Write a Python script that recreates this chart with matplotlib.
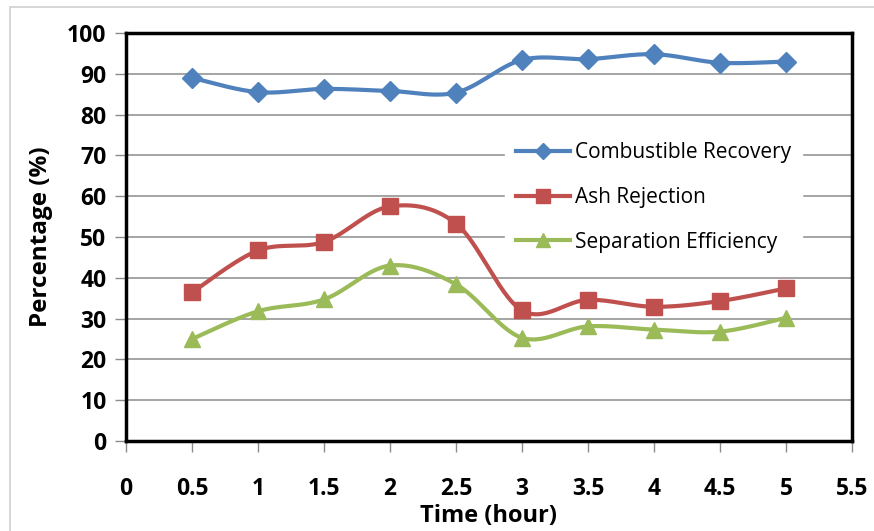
import numpy as np
import matplotlib
matplotlib.use("Agg")
import matplotlib.pyplot as plt
from matplotlib.patches import Rectangle

time_h = [0.5, 1, 1.5, 2, 2.5, 3, 3.5, 4, 4.5, 5]
combustible_recovery = [89.0, 85.5, 86.3, 85.8, 85.4, 93.4, 93.6, 94.8, 92.7, 93.0]
ash_rejection = [36.4, 46.7, 48.8, 57.5, 53.3, 32.0, 34.6, 32.9, 34.3, 37.4]
separation_efficiency = [25.0, 31.8, 34.7, 43.0, 38.4, 25.3, 28.1, 27.3, 26.8, 30.2]
series_names = ["Combustible Recovery", "Ash Rejection", "Separation Efficiency"]
x_ticks = [0, 0.5, 1, 1.5, 2, 2.5, 3, 3.5, 4, 4.5, 5, 5.5]
x_tick_labels = ["0", "0.5", "1", "1.5", "2", "2.5", "3", "3.5", "4", "4.5", "5", "5.5"]
y_ticks = [0, 10, 20, 30, 40, 50, 60, 70, 80, 90, 100]

FONT = ["Open Sans", "DejaVu Sans"]
plt.rcParams['font.family'] = FONT


def smooth(xs, ys, n=30):
    """Excel-like smoothed line: cubic Bezier with Catmull-Rom control points."""
    xs = np.asarray(xs, float)
    ys = np.asarray(ys, float)
    px, py = [], []
    m = len(xs)
    for i in range(m - 1):
        x0, y0 = (xs[i - 1], ys[i - 1]) if i > 0 else (xs[i], ys[i])
        x1, y1 = xs[i], ys[i]
        x2, y2 = xs[i + 1], ys[i + 1]
        x3, y3 = (xs[i + 2], ys[i + 2]) if i + 2 < m else (xs[i + 1], ys[i + 1])
        c1x, c1y = x1 + (x2 - x0) / 6, y1 + (y2 - y0) / 6
        c2x, c2y = x2 - (x3 - x1) / 6, y2 - (y3 - y1) / 6
        t = np.linspace(0, 1, n)
        bx = (1 - t) ** 3 * x1 + 3 * (1 - t) ** 2 * t * c1x + 3 * (1 - t) * t ** 2 * c2x + t ** 3 * x2
        by = (1 - t) ** 3 * y1 + 3 * (1 - t) ** 2 * t * c1y + 3 * (1 - t) * t ** 2 * c2y + t ** 3 * y2
        px.extend(bx)
        py.extend(by)
    return np.array(px), np.array(py)


W, H = 874, 531
fig = plt.figure(figsize=(W / 100, H / 100), dpi=100)
left, right, top, bottom = 126, 852, 33, 441
ax = fig.add_axes([left / W, 1 - bottom / H, (right - left) / W, (bottom - top) / H])

# chart area border
fig.patches.append(Rectangle((10 / W, -0.1), 1.2, (H - 7) / H + 0.1, transform=fig.transFigure,
                             fill=False, edgecolor="#d0d0d0", linewidth=1.2, zorder=0))

colors = ["#4F81BD", "#C0504D", "#9BBB59"]
markers = ["D", "s", "^"]
msizes = [10, 12, 12]
data = [combustible_recovery, ash_rejection, separation_efficiency]
handles = []
for name, ys, c, mk, ms in zip(series_names, data, colors, markers, msizes):
    sx, sy = smooth(time_h, ys)
    ax.plot(sx, sy, color=c, lw=3, solid_capstyle="round", zorder=3)
    ax.plot(time_h, ys, linestyle="none", marker=mk, color=c, markersize=ms, zorder=4)
    h, = ax.plot([], [], color=c, lw=3, marker=mk, markersize=ms * 0.85, label=name)
    handles.append(h)

ax.set_xlim(0, 5.5)
ax.set_ylim(0, 100)
ax.set_xticks(x_ticks)
ax.set_xticklabels(x_tick_labels)
ax.set_yticks(y_ticks)
ax.yaxis.grid(True, color="#8c8c8c", linewidth=1.1)
ax.set_axisbelow(True)
for s in ax.spines.values():
    s.set_linewidth(2.5)
    s.set_color("black")
ax.tick_params(axis="both", direction="out", length=8, width=1, color="#8c8c8c",
               labelsize=16.5)
ax.tick_params(axis="x", pad=18)
ax.tick_params(axis="y", pad=6)
for lab in ax.get_xticklabels() + ax.get_yticklabels():
    lab.set_fontweight("bold")

ax.set_xlabel("Time (hour)", fontsize=17, fontweight="bold")
ax.xaxis.label.set_va("center")
ax.xaxis.set_label_coords(0.5, -(516 - bottom) / (bottom - top))
ax.set_ylabel("Percentage (%)", fontsize=17.5, fontweight="bold", labelpad=10)

leg = ax.legend(handles=handles, loc="upper left",
                bbox_to_anchor=((495 - left) / (right - left), 1 - (121 - top) / (bottom - top)),
                frameon=True, fancybox=False, framealpha=1, edgecolor="white",
                fontsize=15, handlelength=2.6, handletextpad=0.25, labelspacing=1.15,
                borderpad=0.5)
leg.set_zorder(5)

fig.savefig("out.png", dpi=100)
